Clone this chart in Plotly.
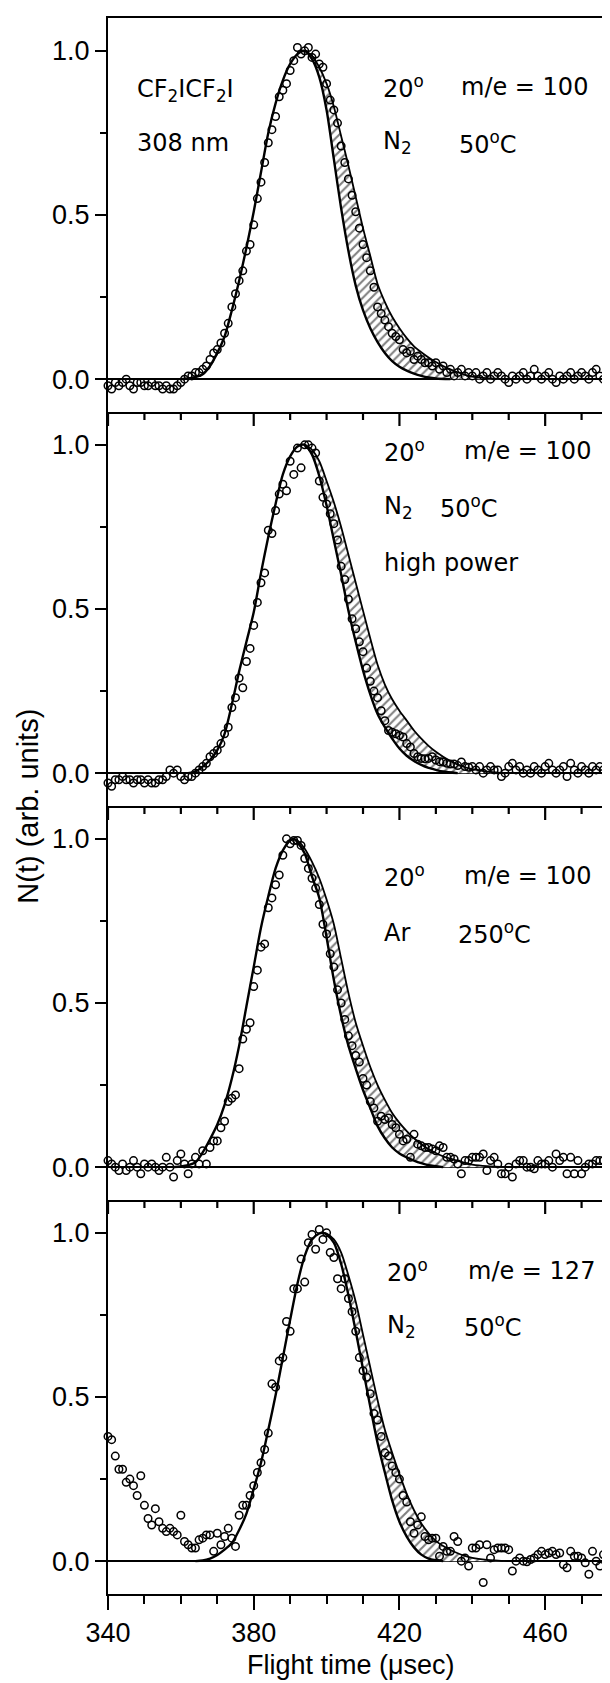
import plotly.graph_objects as go
from plotly.subplots import make_subplots

# ---------------- data (flight time in microseconds, N(t) arb. units) ----------------
T_START = 340  # first sampled flight time; points every 1 usec

P1_N = [-0.02, -0.03, -0.01, -0.02, -0.01, 0.0, -0.02, -0.03, -0.01, -0.01,
        -0.02, -0.02, -0.01, -0.02, -0.02, -0.03, -0.02, -0.03, -0.03, -0.02,
        -0.01, 0.0, 0.01, 0.01, 0.02, 0.02, 0.03, 0.04, 0.06, 0.08,
        0.09, 0.11, 0.14, 0.17, 0.22, 0.26, 0.30, 0.33, 0.39, 0.41,
        0.47, 0.55, 0.60, 0.66, 0.72, 0.76, 0.80, 0.86, 0.88, 0.90,
        0.94, 0.97, 1.01, 0.99, 1.00, 1.01, 0.98, 0.99, 0.96, 0.95,
        0.90, 0.85, 0.82, 0.78, 0.71, 0.66, 0.61, 0.56, 0.51, 0.46,
        0.41, 0.37, 0.33, 0.28, 0.22, 0.20, 0.18, 0.16, 0.14, 0.13,
        0.12, 0.09, 0.08, 0.085, 0.06, 0.07, 0.06, 0.05, 0.05, 0.04,
        0.05, 0.03, 0.04, 0.02, 0.03, 0.01, 0.02, 0.03, 0.01, 0.02,
        0.01, 0.02, 0.0, 0.01, 0.02, 0.0, 0.01, 0.02, 0.01, 0.0,
        -0.01, 0.01, 0.0, 0.01, 0.02, 0.0, 0.01, 0.03, 0.01, 0.0,
        0.01, 0.02, 0.0, -0.01, 0.01, 0.0, 0.01, 0.02, 0.0, 0.01,
        0.02, 0.01, 0.0, 0.02, 0.03, 0.01, 0.0, 0.02, 0.03]

P2_N = [-0.03, -0.04, -0.02, -0.02, -0.01, -0.02, -0.02, -0.03, -0.02, -0.02,
        -0.03, -0.02, -0.03, -0.03, -0.02, -0.02, -0.01, 0.01, 0.0, 0.01,
        -0.01, -0.02, -0.01, -0.01, 0.0, 0.01, 0.02, 0.03, 0.05, 0.06,
        0.07, 0.09, 0.12, 0.14, 0.20, 0.23, 0.29, 0.26, 0.34, 0.38,
        0.45, 0.52, 0.58, 0.61, 0.74, 0.73, 0.80, 0.85, 0.88, 0.86,
        0.95, 0.91, 0.99, 0.93, 1.0, 1.0, 0.99, 0.975, 0.89, 0.84,
        0.82, 0.79, 0.76, 0.71, 0.63, 0.59, 0.53, 0.47, 0.44, 0.40,
        0.37, 0.32, 0.28, 0.25, 0.23, 0.19, 0.16, 0.13, 0.125, 0.12,
        0.115, 0.11, 0.09, 0.08, 0.06, 0.05, 0.045, 0.044, 0.045, 0.05,
        0.04, 0.035, 0.034, 0.03, 0.028, 0.028, 0.023, 0.034, 0.02, 0.018,
        0.02, 0.01, 0.02, 0.0, 0.01, 0.02, 0.01, 0.01, -0.01, 0.0,
        0.02, 0.03, 0.01, 0.02, 0.0, 0.01, 0.0, 0.02, 0.01, 0.0,
        0.02, 0.03, 0.01, 0.0, 0.01, 0.02, -0.01, 0.03, 0.01, 0.0,
        0.02, 0.01, 0.0, 0.02, 0.01, 0.02, 0.01, 0.0, 0.02]

P3_N = [0.02, 0.01, 0.0, -0.01, 0.01, -0.01, 0.0, 0.02, 0.0, -0.02,
        0.01, 0.0, 0.01, 0.0, -0.01, 0.0, 0.03, 0.0, -0.03, 0.02,
        0.04, 0.01, -0.02, 0.01, 0.03, 0.01, 0.05, 0.01, 0.06, 0.08,
        0.08, 0.12, 0.14, 0.20, 0.21, 0.22, 0.30, 0.39, 0.42, 0.44,
        0.55, 0.60, 0.67, 0.68, 0.79, 0.82, 0.86, 0.89, 0.95, 1.0,
        0.985, 0.995, 0.995, 0.98, 0.94, 0.91, 0.88, 0.85, 0.80, 0.74,
        0.71, 0.65, 0.61, 0.54, 0.50, 0.45, 0.40, 0.37, 0.34, 0.32,
        0.27, 0.25, 0.20, 0.18, 0.14, 0.155, 0.145, 0.15, 0.13, 0.12,
        0.10, 0.08, 0.085, 0.03, 0.10, 0.07, 0.065, 0.06, 0.06, 0.055,
        0.05, 0.065, 0.06, 0.03, 0.03, 0.025, 0.01, -0.02, 0.02, 0.02,
        0.03, 0.03, 0.03, 0.04, -0.01, 0.02, 0.03, 0.01, -0.02, -0.02,
        0.0, -0.03, 0.01, 0.02, 0.02, 0.0, 0.0, -0.005, 0.02, 0.01,
        0.01, 0.02, 0.0, 0.04, 0.02, 0.03, -0.02, 0.03, -0.02, 0.02,
        -0.02, 0.0, 0.01, 0.01, 0.02, 0.02, 0.02, 0.02, 0.02]

P4_N = [0.38, 0.37, 0.32, 0.28, 0.28, 0.24, 0.25, 0.23, 0.20, 0.26,
        0.17, 0.13, 0.11, 0.16, 0.12, 0.10, 0.09, 0.10, 0.09, 0.08,
        0.14, 0.06, 0.05, 0.04, 0.04, 0.065, 0.07, 0.08, 0.08, 0.03,
        0.085, 0.05, 0.075, 0.10, 0.07, 0.045, 0.14, 0.17, 0.17, 0.20,
        0.23, 0.27, 0.30, 0.34, 0.39, 0.54, 0.53, 0.61, 0.62, 0.73,
        0.70, 0.83, 0.83, 0.92, 0.85, 0.97, 0.995, 0.95, 1.01, 0.98,
        1.0, 0.94, 0.925, 0.86, 0.83, 0.86, 0.80, 0.76, 0.70, 0.62,
        0.58, 0.56, 0.51, 0.45, 0.43, 0.38, 0.33, 0.32, 0.29, 0.27,
        0.25, 0.20, 0.18, 0.12, 0.085, 0.11, 0.135, 0.075, 0.065, 0.07,
        0.07, 0.015, 0.045, 0.03, 0.03, 0.075, 0.06, 0.0, 0.01, -0.015,
        0.04, 0.04, 0.05, -0.065, 0.05, 0.01, 0.035, 0.04, 0.04, 0.04,
        0.035, -0.03, 0.0, 0.01, 0.0, -0.002, 0.005, 0.01, 0.02, 0.03,
        0.02, 0.025, 0.03, 0.02, 0.025, -0.01, -0.02, 0.03, 0.015, 0.015,
        0.01, -0.005, -0.04, 0.03, 0.0, -0.015, 0.02, 0.01, 0.01]

# fitted curves: narrow fit (inner) and broad fit (outer, trailing edge)
P1_INNER_X = [360, 362, 364, 366, 368, 370, 372, 374, 376, 378, 380, 382, 384, 386, 388,
              390, 392, 394, 396, 398, 400, 402, 404, 406, 408, 410, 412, 414, 416, 418,
              420, 422, 424, 426, 428, 430, 434]
P1_INNER_Y = [0.0, 0.002, 0.006, 0.015, 0.04, 0.08, 0.13, 0.21, 0.30, 0.40, 0.51, 0.63, 0.75, 0.84, 0.91,
              0.96, 0.99, 1.0, 0.975, 0.92, 0.82, 0.67, 0.52, 0.39, 0.285, 0.21, 0.155, 0.113, 0.08, 0.055,
              0.038, 0.026, 0.017, 0.01, 0.005, 0.002, 0.0]
P1_OUTER_X = [394, 396, 398, 400, 402, 404, 406, 408, 410, 412, 414, 416, 418, 420, 422,
              424, 426, 428, 430, 432, 434, 436, 438, 440, 444, 450]
P1_OUTER_Y = [1.0, 0.985, 0.95, 0.90, 0.83, 0.74, 0.65, 0.555, 0.46, 0.375, 0.29, 0.235, 0.19, 0.155, 0.125,
              0.10, 0.082, 0.066, 0.052, 0.04, 0.03, 0.021, 0.013, 0.008, 0.003, 0.0]

P2_INNER_X = [362, 364, 366, 368, 370, 372, 374, 376, 378, 380, 382, 384, 386, 388, 390,
              392, 394, 396, 398, 400, 402, 404, 406, 408, 410, 412, 414, 416, 418, 420,
              422, 424, 426, 428, 430, 432, 436]
P2_INNER_Y = [0.0, 0.005, 0.02, 0.04, 0.07, 0.12, 0.21, 0.31, 0.40, 0.49, 0.61, 0.72, 0.82, 0.91, 0.965,
              0.995, 1.0, 0.97, 0.905, 0.815, 0.71, 0.605, 0.495, 0.40, 0.313, 0.24, 0.18, 0.14, 0.105, 0.075,
              0.053, 0.037, 0.025, 0.016, 0.01, 0.005, 0.0]
P2_OUTER_X = [394, 396, 398, 400, 402, 404, 406, 408, 410, 412, 414, 416, 418, 420, 422,
              424, 426, 428, 430, 432, 434, 436, 438, 440, 444, 450]
P2_OUTER_Y = [1.0, 0.985, 0.95, 0.89, 0.825, 0.75, 0.665, 0.58, 0.495, 0.41, 0.33, 0.27, 0.225, 0.19, 0.16,
              0.13, 0.105, 0.083, 0.065, 0.05, 0.037, 0.026, 0.018, 0.012, 0.005, 0.0]

P3_INNER_X = [358, 360, 362, 364, 366, 368, 370, 372, 374, 376, 378, 380, 382, 384, 386,
              388, 390, 391, 392, 394, 396, 398, 400, 402, 404, 406, 408, 410, 412, 414,
              416, 418, 420, 422, 424, 426, 428, 432]
P3_INNER_Y = [0.0, 0.002, 0.006, 0.015, 0.045, 0.085, 0.13, 0.19, 0.27, 0.37, 0.49, 0.61, 0.73, 0.825, 0.91,
              0.965, 0.995, 1.0, 0.99, 0.955, 0.885, 0.82, 0.70, 0.57, 0.46, 0.37, 0.30, 0.235, 0.18, 0.125,
              0.088, 0.06, 0.042, 0.03, 0.02, 0.012, 0.006, 0.0]
P3_OUTER_X = [391, 392, 394, 396, 398, 400, 402, 404, 406, 408, 410, 412, 414, 416, 418,
              420, 422, 424, 426, 428, 430, 432, 434, 436, 438, 440, 444, 450]
P3_OUTER_Y = [1.0, 0.995, 0.97, 0.93, 0.88, 0.815, 0.74, 0.635, 0.53, 0.44, 0.37, 0.305, 0.25, 0.205, 0.165,
              0.135, 0.11, 0.088, 0.07, 0.055, 0.043, 0.033, 0.026, 0.019, 0.013, 0.008, 0.003, 0.0]

P4_INNER_X = [364, 366, 368, 370, 372, 374, 376, 378, 380, 382, 384, 386, 388, 390, 392,
              394, 396, 398, 399, 400, 402, 404, 406, 408, 410, 412, 414, 416, 418, 420,
              422, 424, 426, 428, 430, 432]
P4_INNER_Y = [0.0, 0.002, 0.008, 0.019, 0.035, 0.055, 0.095, 0.145, 0.22, 0.30, 0.40, 0.505, 0.62, 0.735, 0.845,
              0.93, 0.98, 0.998, 1.0, 0.995, 0.97, 0.905, 0.81, 0.70, 0.585, 0.47, 0.36, 0.27, 0.185, 0.12,
              0.075, 0.042, 0.02, 0.008, 0.003, 0.0]
P4_OUTER_X = [399, 400, 402, 404, 406, 408, 410, 412, 414, 416, 418, 420, 422, 424, 426,
              428, 430, 432, 434, 436, 438, 440, 444, 450]
P4_OUTER_Y = [1.0, 0.998, 0.98, 0.94, 0.87, 0.79, 0.69, 0.59, 0.49, 0.40, 0.33, 0.265, 0.205, 0.155, 0.115,
              0.085, 0.062, 0.046, 0.034, 0.024, 0.016, 0.01, 0.004, 0.0]

X_RANGE = [340, 477.8]
Y_RANGE = [-0.1, 1.1]
X_TICKS = [340, 380, 420, 460]
X_TICK_LABELS = ["340", "380", "420", "460"]
X_MINOR = [340, 350, 360, 370, 380, 390, 400, 410, 420, 430, 440, 450, 460, 470]
Y_TICKS = [0.0, 0.5, 1.0]
Y_TICK_LABELS = ["0.0", "0.5", "1.0"]
Y_MINOR = [0.25, 0.75]

# panel labels: (row, x, y, text)
LABELS = [
    (1, 347.3, 0.88, "CF<sub>2</sub>ICF<sub>2</sub>I"),
    (1, 347.3, 0.72, "308 nm"),
    (1, 414.9, 0.89, "20<sup>o</sup>"),
    (1, 436.3, 0.89, "m/e = 100"),
    (1, 414.9, 0.72, "N<sub>2</sub>"),
    (1, 435.8, 0.72, "50<sup>o</sup>C"),
    (2, 415.1, 0.98, "20<sup>o</sup>"),
    (2, 437.1, 0.98, "m/e = 100"),
    (2, 415.1, 0.81, "N<sub>2</sub>"),
    (2, 430.6, 0.81, "50<sup>o</sup>C"),
    (2, 415.1, 0.64, "high power"),
    (3, 415.1, 0.886, "20<sup>o</sup>"),
    (3, 437.1, 0.886, "m/e = 100"),
    (3, 415.1, 0.713, "Ar"),
    (3, 435.5, 0.713, "250<sup>o</sup>C"),
    (4, 416.1, 0.884, "20<sup>o</sup>"),
    (4, 438.2, 0.884, "m/e = 127"),
    (4, 416.1, 0.715, "N<sub>2</sub>"),
    (4, 437.1, 0.715, "50<sup>o</sup>C"),
]

PANELS = [
    (P1_N, P1_INNER_X, P1_INNER_Y, P1_OUTER_X, P1_OUTER_Y),
    (P2_N, P2_INNER_X, P2_INNER_Y, P2_OUTER_X, P2_OUTER_Y),
    (P3_N, P3_INNER_X, P3_INNER_Y, P3_OUTER_X, P3_OUTER_Y),
    (P4_N, P4_INNER_X, P4_INNER_Y, P4_OUTER_X, P4_OUTER_Y),
]

TICK_FONT = dict(family="Liberation Sans, Arial, sans-serif", size=27, color="black")
LABEL_FONT = dict(family="DejaVu Sans, sans-serif", size=24, color="black")

FIG_W, FIG_H = 602, 1675          # the page body adds an 8 px offset
MARGIN = dict(l=100, r=0, t=10, b=89)
MAJOR_LEN, MINOR_LEN = 14, 8      # tick lengths in px

panel_px = (FIG_H - MARGIN["t"] - MARGIN["b"]) / len(PANELS)
units_per_px = (Y_RANGE[1] - Y_RANGE[0]) / panel_px

fig = make_subplots(rows=4, cols=1, vertical_spacing=0)

for r, (n, ix, iy, ox, oy) in enumerate(PANELS, start=1):
    t = list(range(T_START, T_START + len(n)))
    fall = [(a, b) for a, b in zip(ix, iy) if a >= ox[0]]
    bx = list(ox) + [a for a, _ in reversed(fall)]
    by = list(oy) + [b for _, b in reversed(fall)]
    fig.add_trace(go.Scatter(
        x=bx, y=by, mode="none", fill="toself", fillcolor="white",
        fillpattern=dict(shape="/", fgcolor="black", bgcolor="white", size=6, solidity=0.35),
        hoverinfo="skip", showlegend=False), row=r, col=1)
    fig.add_trace(go.Scatter(
        x=ix, y=iy, mode="lines", line=dict(color="black", width=2.4, shape="spline", smoothing=0.8),
        showlegend=False), row=r, col=1)
    fig.add_trace(go.Scatter(
        x=ox, y=oy, mode="lines", line=dict(color="black", width=1.8, shape="spline", smoothing=0.8),
        showlegend=False), row=r, col=1)
    fig.add_trace(go.Scatter(
        x=t, y=n, mode="markers", cliponaxis=False,
        marker=dict(symbol="circle-open", size=7.5, color="black", line=dict(width=1.5, color="black")),
        showlegend=False), row=r, col=1)

    # time ticks hanging down from the edge shared with the panel above
    if r > 1:
        for v in X_MINOR:
            ln = MAJOR_LEN if v in X_TICKS else MINOR_LEN
            fig.add_trace(go.Scatter(
                x=[v, v], y=[Y_RANGE[1], Y_RANGE[1] - ln * units_per_px], mode="lines",
                line=dict(color="black", width=2.2), hoverinfo="skip", showlegend=False,
                cliponaxis=False), row=r, col=1)

    bottom = (r == len(PANELS))
    fig.update_xaxes(
        row=r, col=1, range=X_RANGE, showgrid=False, zeroline=False,
        showline=True, linecolor="black", linewidth=2, mirror=(r == 1),
        ticks="outside" if bottom else "", tickmode="array", tickvals=X_TICKS, ticktext=X_TICK_LABELS,
        ticklen=MAJOR_LEN, tickwidth=2, tickcolor="black",
        minor=dict(tickvals=X_MINOR, ticks="outside" if bottom else "", ticklen=MINOR_LEN,
                   tickwidth=2, tickcolor="black", showgrid=False),
        showticklabels=bottom, tickfont=TICK_FONT)
    fig.update_yaxes(
        row=r, col=1, range=Y_RANGE, showgrid=False,
        zeroline=True, zerolinecolor="black", zerolinewidth=1.8,
        showline=True, linecolor="black", linewidth=2, mirror=False,
        ticks="outside", tickvals=Y_TICKS, ticktext=Y_TICK_LABELS, ticklen=11, tickwidth=1.8,
        tickcolor="black",
        minor=dict(tickvals=Y_MINOR, ticks="outside", ticklen=6, tickwidth=1.6, tickcolor="black", showgrid=False),
        tickfont=TICK_FONT)

annotations = []
for r, x, y, text in LABELS:
    sfx = "" if r == 1 else str(r)
    annotations.append(dict(x=x, y=y, xref="x" + sfx, yref="y" + sfx, text=text,
                            showarrow=False, xanchor="left", yanchor="middle", font=LABEL_FONT))

annotations.append(dict(x=0.484, y=-0.045, xref="paper", yref="paper", text="Flight time (\u03bcsec)",
                        showarrow=False, xanchor="center", yanchor="middle", font=TICK_FONT))
annotations.append(dict(x=-0.16, y=0.5, xref="paper", yref="paper", text="N(t) (arb. units)",
                        textangle=-90, showarrow=False, xanchor="center", yanchor="middle",
                        font=dict(family="Liberation Sans, Arial, sans-serif", size=29, color="black")))

fig.update_layout(
    width=FIG_W, height=FIG_H, margin=MARGIN,
    paper_bgcolor="white", plot_bgcolor="rgba(0,0,0,0)",
    annotations=annotations, showlegend=False,
)

fig.write_html("out.html")
